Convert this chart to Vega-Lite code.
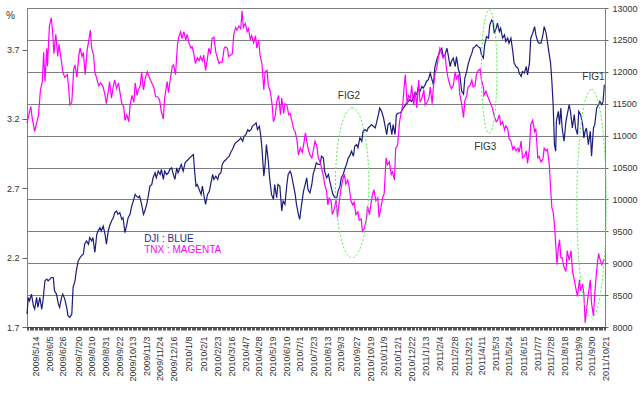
{
  "$schema": "https://vega.github.io/schema/vega-lite/v6.json",
  "width": 578,
  "height": 319,
  "autosize": "none",
  "padding": {"left": 27, "top": 8, "right": 39, "bottom": 74},
  "background": "white",
  "config": {
    "view": {"stroke": "#808080", "strokeWidth": 1},
    "font": "Liberation Sans",
    "axis": {"labelFont": "Liberation Sans", "labelColor": "#333333", "labelFontSize": 9, "titleFont": "Liberation Sans"}
  },
  "datasets": {
    "dji": [
      {"d":"2009-05-01","v":8203},{"d":"2009-05-03","v":8464},{"d":"2009-05-05","v":8411},{"d":"2009-05-08","v":8516},{"d":"2009-05-11","v":8333},{"d":"2009-05-13","v":8281},{"d":"2009-05-16","v":8464},{"d":"2009-05-18","v":8308},{"d":"2009-05-21","v":8464},{"d":"2009-05-24","v":8281},{"d":"2009-05-26","v":8411},{"d":"2009-05-29","v":8724},
      {"d":"2009-06-01","v":8750},{"d":"2009-06-03","v":8724},{"d":"2009-06-06","v":8750},{"d":"2009-06-08","v":8776},{"d":"2009-06-11","v":8776},{"d":"2009-06-13","v":8568},{"d":"2009-06-16","v":8516},{"d":"2009-06-19","v":8359},{"d":"2009-06-21","v":8308},{"d":"2009-06-24","v":8464},{"d":"2009-06-26","v":8516},{"d":"2009-06-29","v":8438},
      {"d":"2009-07-02","v":8308},{"d":"2009-07-04","v":8177},{"d":"2009-07-07","v":8152},{"d":"2009-07-10","v":8203},{"d":"2009-07-12","v":8620},{"d":"2009-07-15","v":8724},{"d":"2009-07-17","v":8880},{"d":"2009-07-20","v":9036},{"d":"2009-07-23","v":9089},{"d":"2009-07-25","v":9114},{"d":"2009-07-28","v":9141},{"d":"2009-07-30","v":9297},
      {"d":"2009-08-02","v":9349},{"d":"2009-08-05","v":9297},{"d":"2009-08-07","v":9402},{"d":"2009-08-10","v":9349},{"d":"2009-08-12","v":9402},{"d":"2009-08-15","v":9167},{"d":"2009-08-18","v":9453},{"d":"2009-08-20","v":9505},{"d":"2009-08-23","v":9558},{"d":"2009-08-25","v":9505},{"d":"2009-08-28","v":9583},{"d":"2009-08-31","v":9453},
      {"d":"2009-09-02","v":9297},{"d":"2009-09-05","v":9505},{"d":"2009-09-07","v":9583},{"d":"2009-09-10","v":9661},{"d":"2009-09-13","v":9714},{"d":"2009-09-15","v":9792},{"d":"2009-09-18","v":9817},{"d":"2009-09-20","v":9766},{"d":"2009-09-23","v":9792},{"d":"2009-09-26","v":9688},{"d":"2009-09-28","v":9714},
      {"d":"2009-10-01","v":9480},{"d":"2009-10-04","v":9609},{"d":"2009-10-06","v":9714},{"d":"2009-10-09","v":9766},{"d":"2009-10-11","v":9870},{"d":"2009-10-14","v":9974},{"d":"2009-10-17","v":10078},{"d":"2009-10-19","v":10052},{"d":"2009-10-22","v":10026},{"d":"2009-10-24","v":10052},{"d":"2009-10-27","v":9922},{"d":"2009-10-30","v":9766},
      {"d":"2009-11-01","v":9817},{"d":"2009-11-04","v":9922},{"d":"2009-11-06","v":10026},{"d":"2009-11-09","v":10208},{"d":"2009-11-12","v":10234},{"d":"2009-11-14","v":10339},{"d":"2009-11-17","v":10417},{"d":"2009-11-19","v":10339},{"d":"2009-11-22","v":10443},{"d":"2009-11-25","v":10391},{"d":"2009-11-27","v":10469},{"d":"2009-11-30","v":10313},
      {"d":"2009-12-02","v":10443},{"d":"2009-12-05","v":10391},{"d":"2009-12-08","v":10417},{"d":"2009-12-10","v":10469},{"d":"2009-12-13","v":10495},{"d":"2009-12-15","v":10417},{"d":"2009-12-18","v":10313},{"d":"2009-12-21","v":10495},{"d":"2009-12-23","v":10417},{"d":"2009-12-26","v":10495},{"d":"2009-12-28","v":10547},{"d":"2009-12-31","v":10443},
      {"d":"2010-01-03","v":10573},{"d":"2010-01-05","v":10599},{"d":"2010-01-08","v":10625},{"d":"2010-01-10","v":10651},{"d":"2010-01-13","v":10677},{"d":"2010-01-16","v":10703},{"d":"2010-01-17","v":10547},{"d":"2010-01-20","v":10208},{"d":"2010-01-22","v":10234},{"d":"2010-01-25","v":10156},{"d":"2010-01-28","v":10078},{"d":"2010-01-30","v":10208},
      {"d":"2010-02-02","v":10026},{"d":"2010-02-04","v":9922},{"d":"2010-02-07","v":10078},{"d":"2010-02-10","v":10130},{"d":"2010-02-12","v":10234},{"d":"2010-02-15","v":10391},{"d":"2010-02-17","v":10313},{"d":"2010-02-20","v":10365},{"d":"2010-02-23","v":10313},{"d":"2010-02-25","v":10391},{"d":"2010-02-28","v":10417},
      {"d":"2010-03-02","v":10547},{"d":"2010-03-05","v":10599},{"d":"2010-03-08","v":10625},{"d":"2010-03-10","v":10651},{"d":"2010-03-13","v":10677},{"d":"2010-03-16","v":10755},{"d":"2010-03-18","v":10781},{"d":"2010-03-21","v":10859},{"d":"2010-03-23","v":10886},{"d":"2010-03-26","v":10911},{"d":"2010-03-29","v":10938},{"d":"2010-03-31","v":10964},
      {"d":"2010-04-03","v":10911},{"d":"2010-04-05","v":10990},{"d":"2010-04-08","v":11016},{"d":"2010-04-11","v":11094},{"d":"2010-04-13","v":11068},{"d":"2010-04-16","v":11094},{"d":"2010-04-18","v":11146},{"d":"2010-04-21","v":11172},{"d":"2010-04-24","v":11198},{"d":"2010-04-26","v":11094},{"d":"2010-04-29","v":11146},
      {"d":"2010-05-01","v":11016},{"d":"2010-05-03","v":10808},{"d":"2010-05-06","v":10365},{"d":"2010-05-08","v":10547},{"d":"2010-05-10","v":10859},{"d":"2010-05-13","v":10599},{"d":"2010-05-15","v":10339},{"d":"2010-05-18","v":10078},{"d":"2010-05-21","v":10000},{"d":"2010-05-23","v":10234},{"d":"2010-05-26","v":10026},{"d":"2010-05-28","v":10234},{"d":"2010-05-31","v":10208},
      {"d":"2010-06-03","v":9817},{"d":"2010-06-05","v":9974},{"d":"2010-06-08","v":9922},{"d":"2010-06-11","v":10234},{"d":"2010-06-13","v":10391},{"d":"2010-06-16","v":10443},{"d":"2010-06-18","v":10391},{"d":"2010-06-21","v":10234},{"d":"2010-06-24","v":10078},{"d":"2010-06-26","v":9922},{"d":"2010-06-29","v":9766},
      {"d":"2010-07-01","v":9688},{"d":"2010-07-04","v":9922},{"d":"2010-07-07","v":10130},{"d":"2010-07-09","v":10208},{"d":"2010-07-12","v":10339},{"d":"2010-07-14","v":10156},{"d":"2010-07-17","v":10104},{"d":"2010-07-20","v":10234},{"d":"2010-07-22","v":10391},{"d":"2010-07-25","v":10495},{"d":"2010-07-27","v":10573},{"d":"2010-07-30","v":10547},
      {"d":"2010-08-02","v":10547},{"d":"2010-08-04","v":10677},{"d":"2010-08-07","v":10651},{"d":"2010-08-09","v":10443},{"d":"2010-08-12","v":10339},{"d":"2010-08-15","v":10391},{"d":"2010-08-17","v":10286},{"d":"2010-08-20","v":10156},{"d":"2010-08-22","v":10078},{"d":"2010-08-25","v":10026},{"d":"2010-08-28","v":10026},{"d":"2010-08-30","v":10130},
      {"d":"2010-09-02","v":10208},{"d":"2010-09-04","v":10339},{"d":"2010-09-07","v":10391},{"d":"2010-09-10","v":10495},{"d":"2010-09-12","v":10547},{"d":"2010-09-15","v":10651},{"d":"2010-09-17","v":10677},{"d":"2010-09-20","v":10755},{"d":"2010-09-23","v":10677},{"d":"2010-09-25","v":10833},{"d":"2010-09-28","v":10859},{"d":"2010-09-30","v":10808},
      {"d":"2010-10-03","v":10964},{"d":"2010-10-06","v":10911},{"d":"2010-10-08","v":11068},{"d":"2010-10-11","v":11094},{"d":"2010-10-14","v":11068},{"d":"2010-10-16","v":11120},{"d":"2010-10-19","v":11146},{"d":"2010-10-21","v":11172},{"d":"2010-10-24","v":11146},{"d":"2010-10-27","v":11120},{"d":"2010-10-29","v":11198},
      {"d":"2010-11-01","v":11328},{"d":"2010-11-03","v":11433},{"d":"2010-11-06","v":11380},{"d":"2010-11-09","v":11276},{"d":"2010-11-11","v":11172},{"d":"2010-11-14","v":11016},{"d":"2010-11-16","v":11172},{"d":"2010-11-19","v":11198},{"d":"2010-11-22","v":11016},{"d":"2010-11-24","v":11172},{"d":"2010-11-27","v":11016},{"d":"2010-11-29","v":11328},
      {"d":"2010-12-02","v":11354},{"d":"2010-12-05","v":11354},{"d":"2010-12-07","v":11380},{"d":"2010-12-10","v":11433},{"d":"2010-12-12","v":11458},{"d":"2010-12-15","v":11510},{"d":"2010-12-18","v":11536},{"d":"2010-12-20","v":11563},{"d":"2010-12-23","v":11536},{"d":"2010-12-25","v":11589},{"d":"2010-12-28","v":11667},{"d":"2010-12-31","v":11641},
      {"d":"2011-01-02","v":11745},{"d":"2011-01-05","v":11693},{"d":"2011-01-08","v":11770},{"d":"2011-01-10","v":11745},{"d":"2011-01-13","v":11797},{"d":"2011-01-15","v":11849},{"d":"2011-01-18","v":11875},{"d":"2011-01-21","v":11980},{"d":"2011-01-23","v":11901},{"d":"2011-01-26","v":11797},{"d":"2011-01-28","v":12058},{"d":"2011-01-31","v":12188},
      {"d":"2011-02-02","v":12239},{"d":"2011-02-05","v":12317},{"d":"2011-02-08","v":12370},{"d":"2011-02-10","v":12239},{"d":"2011-02-13","v":12266},{"d":"2011-02-16","v":12370},{"d":"2011-02-18","v":12266},{"d":"2011-02-21","v":12083},{"d":"2011-02-23","v":12161},{"d":"2011-02-26","v":12214},
      {"d":"2011-03-01","v":12083},{"d":"2011-03-03","v":12239},{"d":"2011-03-06","v":12031},{"d":"2011-03-08","v":11980},{"d":"2011-03-11","v":11700},{"d":"2011-03-14","v":11650},{"d":"2011-03-16","v":11900},{"d":"2011-03-19","v":12005},{"d":"2011-03-21","v":12109},{"d":"2011-03-24","v":12214},{"d":"2011-03-27","v":12292},{"d":"2011-03-29","v":12370},
      {"d":"2011-04-01","v":12395},{"d":"2011-04-03","v":12422},{"d":"2011-04-06","v":12395},{"d":"2011-04-09","v":12370},{"d":"2011-04-11","v":12266},{"d":"2011-04-14","v":12214},{"d":"2011-04-16","v":12422},{"d":"2011-04-19","v":12552},{"d":"2011-04-22","v":12527},{"d":"2011-04-24","v":12734},{"d":"2011-04-27","v":12813},{"d":"2011-04-29","v":12786},
      {"d":"2011-05-01","v":12605},{"d":"2011-05-04","v":12683},{"d":"2011-05-06","v":12761},{"d":"2011-05-09","v":12630},{"d":"2011-05-11","v":12683},{"d":"2011-05-14","v":12527},{"d":"2011-05-17","v":12578},{"d":"2011-05-19","v":12473},{"d":"2011-05-22","v":12527},{"d":"2011-05-24","v":12448},{"d":"2011-05-27","v":12527},{"d":"2011-05-30","v":12317},
      {"d":"2011-06-01","v":12136},{"d":"2011-06-04","v":12083},{"d":"2011-06-07","v":12058},{"d":"2011-06-09","v":11980},{"d":"2011-06-12","v":11927},{"d":"2011-06-14","v":12005},{"d":"2011-06-17","v":11980},{"d":"2011-06-20","v":12083},{"d":"2011-06-22","v":11953},{"d":"2011-06-25","v":12136},{"d":"2011-06-27","v":12527},{"d":"2011-06-30","v":12605},
      {"d":"2011-07-03","v":12708},{"d":"2011-07-05","v":12578},{"d":"2011-07-08","v":12473},{"d":"2011-07-10","v":12448},{"d":"2011-07-13","v":12448},{"d":"2011-07-16","v":12578},{"d":"2011-07-18","v":12708},{"d":"2011-07-21","v":12605},{"d":"2011-07-23","v":12473},{"d":"2011-07-26","v":12266},{"d":"2011-07-28","v":12136},{"d":"2011-07-30","v":11849},
      {"d":"2011-08-01","v":11484},{"d":"2011-08-03","v":10859},{"d":"2011-08-05","v":10755},{"d":"2011-08-06","v":11224},{"d":"2011-08-09","v":11380},{"d":"2011-08-11","v":11172},{"d":"2011-08-13","v":11433},{"d":"2011-08-15","v":11120},{"d":"2011-08-18","v":10911},{"d":"2011-08-21","v":11224},{"d":"2011-08-23","v":11328},{"d":"2011-08-26","v":11484},{"d":"2011-08-28","v":11380},{"d":"2011-08-31","v":11120},
      {"d":"2011-09-03","v":11328},{"d":"2011-09-05","v":11120},{"d":"2011-09-08","v":11016},{"d":"2011-09-10","v":11380},{"d":"2011-09-13","v":11328},{"d":"2011-09-16","v":11172},{"d":"2011-09-18","v":10964},{"d":"2011-09-20","v":11068},{"d":"2011-09-22","v":11120},{"d":"2011-09-25","v":10859},{"d":"2011-09-28","v":11068},{"d":"2011-09-30","v":10677},
      {"d":"2011-10-03","v":11120},{"d":"2011-10-05","v":11172},{"d":"2011-10-08","v":11433},{"d":"2011-10-11","v":11484},{"d":"2011-10-13","v":11536},{"d":"2011-10-16","v":11484},{"d":"2011-10-18","v":11536},{"d":"2011-10-20","v":11797}
    ],
    "tnx": [
      {"d":"2009-05-01","v":3.17},{"d":"2009-05-07","v":3.29},{"d":"2009-05-09","v":3.21},{"d":"2009-05-13","v":3.11},{"d":"2009-05-17","v":3.19},{"d":"2009-05-19","v":3.23},{"d":"2009-05-22","v":3.41},{"d":"2009-05-25","v":3.47},{"d":"2009-05-27","v":3.68},{"d":"2009-05-29","v":3.47},
      {"d":"2009-06-01","v":3.71},{"d":"2009-06-02","v":3.58},{"d":"2009-06-05","v":3.87},{"d":"2009-06-08","v":3.93},{"d":"2009-06-10","v":3.83},{"d":"2009-06-12","v":3.67},{"d":"2009-06-15","v":3.81},{"d":"2009-06-18","v":3.65},{"d":"2009-06-20","v":3.74},{"d":"2009-06-23","v":3.64},{"d":"2009-06-26","v":3.54},{"d":"2009-06-29","v":3.50},
      {"d":"2009-07-03","v":3.52},{"d":"2009-07-05","v":3.43},{"d":"2009-07-07","v":3.30},{"d":"2009-07-10","v":3.32},{"d":"2009-07-13","v":3.56},{"d":"2009-07-15","v":3.59},{"d":"2009-07-18","v":3.50},{"d":"2009-07-21","v":3.66},{"d":"2009-07-23","v":3.71},{"d":"2009-07-26","v":3.65},{"d":"2009-07-28","v":3.68},{"d":"2009-07-31","v":3.52},
      {"d":"2009-08-03","v":3.70},{"d":"2009-08-05","v":3.75},{"d":"2009-08-08","v":3.84},{"d":"2009-08-10","v":3.71},{"d":"2009-08-13","v":3.66},{"d":"2009-08-15","v":3.54},{"d":"2009-08-18","v":3.49},{"d":"2009-08-21","v":3.44},{"d":"2009-08-24","v":3.46},{"d":"2009-08-28","v":3.43},{"d":"2009-08-31","v":3.37},
      {"d":"2009-09-02","v":3.31},{"d":"2009-09-05","v":3.40},{"d":"2009-09-07","v":3.47},{"d":"2009-09-10","v":3.35},{"d":"2009-09-13","v":3.44},{"d":"2009-09-15","v":3.48},{"d":"2009-09-18","v":3.42},{"d":"2009-09-21","v":3.46},{"d":"2009-09-24","v":3.37},{"d":"2009-09-26","v":3.31},{"d":"2009-09-29","v":3.29},
      {"d":"2009-10-01","v":3.19},{"d":"2009-10-04","v":3.23},{"d":"2009-10-07","v":3.18},{"d":"2009-10-09","v":3.30},{"d":"2009-10-12","v":3.37},{"d":"2009-10-15","v":3.32},{"d":"2009-10-17","v":3.46},{"d":"2009-10-20","v":3.37},{"d":"2009-10-22","v":3.41},{"d":"2009-10-25","v":3.44},{"d":"2009-10-27","v":3.54},{"d":"2009-10-30","v":3.41},
      {"d":"2009-11-02","v":3.50},{"d":"2009-11-05","v":3.54},{"d":"2009-11-08","v":3.50},{"d":"2009-11-12","v":3.46},{"d":"2009-11-15","v":3.43},{"d":"2009-11-18","v":3.36},{"d":"2009-11-21","v":3.36},{"d":"2009-11-24","v":3.34},{"d":"2009-11-27","v":3.25},{"d":"2009-11-30","v":3.20},
      {"d":"2009-12-02","v":3.35},{"d":"2009-12-06","v":3.47},{"d":"2009-12-08","v":3.39},{"d":"2009-12-11","v":3.49},{"d":"2009-12-14","v":3.58},{"d":"2009-12-16","v":3.59},{"d":"2009-12-19","v":3.52},{"d":"2009-12-22","v":3.73},{"d":"2009-12-24","v":3.79},{"d":"2009-12-27","v":3.83},{"d":"2009-12-29","v":3.78},
      {"d":"2010-01-01","v":3.83},{"d":"2010-01-04","v":3.77},{"d":"2010-01-06","v":3.81},{"d":"2010-01-09","v":3.75},{"d":"2010-01-12","v":3.71},{"d":"2010-01-14","v":3.72},{"d":"2010-01-17","v":3.66},{"d":"2010-01-19","v":3.60},{"d":"2010-01-22","v":3.64},{"d":"2010-01-25","v":3.62},{"d":"2010-01-27","v":3.65},{"d":"2010-01-30","v":3.62},
      {"d":"2010-02-01","v":3.66},{"d":"2010-02-04","v":3.55},{"d":"2010-02-07","v":3.64},{"d":"2010-02-09","v":3.71},{"d":"2010-02-12","v":3.67},{"d":"2010-02-14","v":3.78},{"d":"2010-02-17","v":3.79},{"d":"2010-02-20","v":3.68},{"d":"2010-02-22","v":3.65},{"d":"2010-02-25","v":3.60},{"d":"2010-02-27","v":3.61},
      {"d":"2010-03-02","v":3.61},{"d":"2010-03-05","v":3.71},{"d":"2010-03-07","v":3.72},{"d":"2010-03-10","v":3.71},{"d":"2010-03-12","v":3.65},{"d":"2010-03-15","v":3.66},{"d":"2010-03-18","v":3.67},{"d":"2010-03-20","v":3.81},{"d":"2010-03-23","v":3.86},{"d":"2010-03-25","v":3.84},{"d":"2010-03-28","v":3.87},{"d":"2010-03-31","v":3.85},
      {"d":"2010-04-02","v":3.98},{"d":"2010-04-04","v":3.86},{"d":"2010-04-07","v":3.89},{"d":"2010-04-10","v":3.83},{"d":"2010-04-12","v":3.85},{"d":"2010-04-15","v":3.77},{"d":"2010-04-17","v":3.80},{"d":"2010-04-20","v":3.75},{"d":"2010-04-23","v":3.80},{"d":"2010-04-25","v":3.71},{"d":"2010-04-28","v":3.77},{"d":"2010-04-30","v":3.66},
      {"d":"2010-05-03","v":3.60},{"d":"2010-05-06","v":3.41},{"d":"2010-05-08","v":3.54},{"d":"2010-05-11","v":3.55},{"d":"2010-05-13","v":3.44},{"d":"2010-05-16","v":3.40},{"d":"2010-05-19","v":3.30},{"d":"2010-05-21","v":3.18},{"d":"2010-05-24","v":3.23},{"d":"2010-05-26","v":3.32},{"d":"2010-05-29","v":3.37},
      {"d":"2010-06-01","v":3.23},{"d":"2010-06-03","v":3.35},{"d":"2010-06-06","v":3.24},{"d":"2010-06-08","v":3.31},{"d":"2010-06-11","v":3.30},{"d":"2010-06-14","v":3.23},{"d":"2010-06-16","v":3.24},{"d":"2010-06-19","v":3.18},{"d":"2010-06-22","v":3.12},{"d":"2010-06-24","v":3.11},{"d":"2010-06-27","v":3.04},{"d":"2010-06-29","v":2.94},
      {"d":"2010-07-02","v":2.99},{"d":"2010-07-05","v":2.96},{"d":"2010-07-07","v":3.01},{"d":"2010-07-10","v":3.10},{"d":"2010-07-12","v":3.04},{"d":"2010-07-15","v":2.97},{"d":"2010-07-17","v":2.94},{"d":"2010-07-20","v":2.92},{"d":"2010-07-23","v":2.99},{"d":"2010-07-25","v":3.04},{"d":"2010-07-28","v":3.00},{"d":"2010-07-30","v":2.92},
      {"d":"2010-08-02","v":2.89},{"d":"2010-08-04","v":2.85},{"d":"2010-08-07","v":2.79},{"d":"2010-08-09","v":2.73},{"d":"2010-08-12","v":2.68},{"d":"2010-08-14","v":2.58},{"d":"2010-08-16","v":2.63},{"d":"2010-08-19","v":2.61},{"d":"2010-08-21","v":2.51},{"d":"2010-08-24","v":2.55},{"d":"2010-08-27","v":2.62},{"d":"2010-08-29","v":2.49},
      {"d":"2010-09-01","v":2.61},{"d":"2010-09-03","v":2.68},{"d":"2010-09-06","v":2.76},{"d":"2010-09-09","v":2.80},{"d":"2010-09-11","v":2.73},{"d":"2010-09-14","v":2.76},{"d":"2010-09-16","v":2.72},{"d":"2010-09-19","v":2.61},{"d":"2010-09-22","v":2.58},{"d":"2010-09-24","v":2.60},{"d":"2010-09-27","v":2.51},{"d":"2010-09-30","v":2.53},
      {"d":"2010-10-02","v":2.47},{"d":"2010-10-05","v":2.48},{"d":"2010-10-07","v":2.39},{"d":"2010-10-10","v":2.41},{"d":"2010-10-13","v":2.47},{"d":"2010-10-15","v":2.57},{"d":"2010-10-18","v":2.51},{"d":"2010-10-20","v":2.58},{"d":"2010-10-23","v":2.66},{"d":"2010-10-25","v":2.69},{"d":"2010-10-28","v":2.61},{"d":"2010-10-31","v":2.63},
      {"d":"2010-11-02","v":2.49},{"d":"2010-11-05","v":2.56},{"d":"2010-11-08","v":2.64},{"d":"2010-11-10","v":2.66},{"d":"2010-11-13","v":2.92},{"d":"2010-11-15","v":2.87},{"d":"2010-11-18","v":2.89},{"d":"2010-11-21","v":2.80},{"d":"2010-11-23","v":2.82},{"d":"2010-11-26","v":2.76},{"d":"2010-11-28","v":2.99},
      {"d":"2010-12-01","v":3.01},{"d":"2010-12-04","v":3.18},{"d":"2010-12-06","v":3.23},{"d":"2010-12-09","v":3.30},{"d":"2010-12-11","v":3.42},{"d":"2010-12-13","v":3.52},{"d":"2010-12-16","v":3.30},{"d":"2010-12-18","v":3.37},{"d":"2010-12-21","v":3.35},{"d":"2010-12-23","v":3.44},{"d":"2010-12-26","v":3.30},{"d":"2010-12-29","v":3.40},{"d":"2010-12-31","v":3.28},
      {"d":"2011-01-03","v":3.48},{"d":"2011-01-05","v":3.32},{"d":"2011-01-08","v":3.35},{"d":"2011-01-11","v":3.41},{"d":"2011-01-13","v":3.30},{"d":"2011-01-16","v":3.32},{"d":"2011-01-19","v":3.35},{"d":"2011-01-21","v":3.43},{"d":"2011-01-24","v":3.31},{"d":"2011-01-26","v":3.44},{"d":"2011-01-29","v":3.54},{"d":"2011-01-31","v":3.56},
      {"d":"2011-02-03","v":3.66},{"d":"2011-02-05","v":3.71},{"d":"2011-02-08","v":3.67},{"d":"2011-02-10","v":3.64},{"d":"2011-02-13","v":3.66},{"d":"2011-02-16","v":3.54},{"d":"2011-02-18","v":3.49},{"d":"2011-02-21","v":3.44},{"d":"2011-02-23","v":3.42},{"d":"2011-02-26","v":3.44},
      {"d":"2011-03-01","v":3.54},{"d":"2011-03-03","v":3.49},{"d":"2011-03-06","v":3.52},{"d":"2011-03-08","v":3.38},{"d":"2011-03-11","v":3.31},{"d":"2011-03-14","v":3.21},{"d":"2011-03-16","v":3.33},{"d":"2011-03-19","v":3.37},{"d":"2011-03-21","v":3.43},{"d":"2011-03-24","v":3.44},{"d":"2011-03-27","v":3.48},{"d":"2011-03-29","v":3.43},
      {"d":"2011-04-01","v":3.44},{"d":"2011-04-03","v":3.52},{"d":"2011-04-06","v":3.55},{"d":"2011-04-09","v":3.56},{"d":"2011-04-11","v":3.48},{"d":"2011-04-14","v":3.43},{"d":"2011-04-15","v":3.37},{"d":"2011-04-18","v":3.40},{"d":"2011-04-21","v":3.36},{"d":"2011-04-23","v":3.34},{"d":"2011-04-26","v":3.30},{"d":"2011-04-28","v":3.28},
      {"d":"2011-05-01","v":3.22},{"d":"2011-05-04","v":3.18},{"d":"2011-05-06","v":3.19},{"d":"2011-05-09","v":3.23},{"d":"2011-05-11","v":3.16},{"d":"2011-05-14","v":3.18},{"d":"2011-05-17","v":3.12},{"d":"2011-05-19","v":3.15},{"d":"2011-05-22","v":3.13},{"d":"2011-05-24","v":3.06},{"d":"2011-05-27","v":3.04},{"d":"2011-05-30","v":2.98},
      {"d":"2011-06-01","v":3.00},{"d":"2011-06-04","v":2.97},{"d":"2011-06-07","v":2.99},{"d":"2011-06-09","v":2.96},{"d":"2011-06-12","v":3.04},{"d":"2011-06-14","v":2.92},{"d":"2011-06-17","v":2.93},{"d":"2011-06-20","v":2.97},{"d":"2011-06-22","v":2.88},{"d":"2011-06-25","v":2.99},{"d":"2011-06-27","v":3.16},{"d":"2011-06-30","v":3.19},
      {"d":"2011-07-03","v":3.11},{"d":"2011-07-05","v":3.13},{"d":"2011-07-08","v":2.92},{"d":"2011-07-10","v":2.93},{"d":"2011-07-13","v":2.89},{"d":"2011-07-16","v":2.91},{"d":"2011-07-18","v":2.99},{"d":"2011-07-21","v":2.97},{"d":"2011-07-23","v":2.98},{"d":"2011-07-26","v":2.87},{"d":"2011-07-28","v":2.70},{"d":"2011-07-30","v":2.56},
      {"d":"2011-08-01","v":2.53},{"d":"2011-08-03","v":2.44},{"d":"2011-08-04","v":2.37},{"d":"2011-08-07","v":2.15},{"d":"2011-08-09","v":2.27},{"d":"2011-08-11","v":2.33},{"d":"2011-08-13","v":2.20},{"d":"2011-08-15","v":2.20},{"d":"2011-08-18","v":2.13},{"d":"2011-08-21","v":2.10},{"d":"2011-08-23","v":2.25},{"d":"2011-08-26","v":2.18},{"d":"2011-08-29","v":2.25},{"d":"2011-08-31","v":2.11},
      {"d":"2011-09-03","v":2.04},{"d":"2011-09-05","v":1.99},{"d":"2011-09-08","v":1.92},{"d":"2011-09-11","v":2.04},{"d":"2011-09-13","v":1.96},{"d":"2011-09-16","v":2.01},{"d":"2011-09-18","v":1.94},{"d":"2011-09-20","v":1.73},{"d":"2011-09-23","v":1.86},{"d":"2011-09-25","v":1.94},{"d":"2011-09-28","v":2.04},{"d":"2011-09-30","v":1.87},
      {"d":"2011-10-03","v":1.78},{"d":"2011-10-05","v":1.94},{"d":"2011-10-08","v":2.11},{"d":"2011-10-11","v":2.23},{"d":"2011-10-13","v":2.19},{"d":"2011-10-16","v":2.15},{"d":"2011-10-18","v":2.17},{"d":"2011-10-20","v":2.19}
    ],
    "ann": [
      {"t":"FIG2","d":"2010-09-16","v":11625},
      {"t":"FIG3","d":"2011-04-17","v":10820},
      {"t":"FIG1","d":"2011-10-03","v":11914}
    ],
    "ell": [
      {"f":"FIG2","d":"2010-09-21","v":10261},
      {"f":"FIG3","d":"2011-04-23","v":12005},
      {"f":"FIG1","d":"2011-09-30","v":9938}
    ],
    "legdji": [{"t":"DJI : BLUE","d":"2009-10-31","v":9380}],
    "legtnx": [{"t":"TNX : MAGENTA","d":"2009-10-31","v":9203}]
  },
  "resolve": {"scale": {"y": "independent"}, "axis": {"x": "independent", "y": "independent"}},
  "layer": [
    {
      "data": {"name": "dji"},
      "mark": {"type": "line", "color": "#1c1c7c", "strokeWidth": 1.2},
      "encoding": {
        "x": {
          "field": "d", "type": "temporal",
          "scale": {"type": "utc", "domain": [{"year":2009,"month":5,"date":1,"utc":true},{"year":2011,"month":10,"date":21,"utc":true}]},
          "axis": {"orient": "bottom", "title": null, "labels": false, "grid": false, "domain": true, "domainColor": "#444444", "ticks": true, "tickSize": 3, "tickColor": "#555555", "tickCount": {"interval": "day", "step": 2}}
        },
        "y": {
          "field": "v", "type": "quantitative",
          "scale": {"domain": [8000, 13000], "nice": false, "zero": false},
          "axis": {
            "orient": "right", "title": null, "format": "d",
            "values": [8000, 8500, 9000, 9500, 10000, 10500, 11000, 11500, 12000, 12500, 13000],
            "grid": true, "gridColor": "#7f7f7f", "gridWidth": 1, "domain": false, "labelOverlap": false,
            "tickSize": 3, "tickColor": "#666666", "labelPadding": 4, "labelFontSize": 9
          }
        }
      }
    },
    {
      "data": {"name": "tnx"},
      "mark": {"type": "line", "color": "#ff00ff", "strokeWidth": 1.2},
      "encoding": {
        "x": {
          "field": "d", "type": "temporal",
          "scale": {"type": "utc", "domain": [{"year":2009,"month":5,"date":1,"utc":true},{"year":2011,"month":10,"date":21,"utc":true}]},
          "axis": {
            "orient": "bottom", "title": null, "grid": false, "ticks": false, "domain": false,
            "labelExpr": "utcFormat(datum.value, '%Y/%-m/%-d')",
            "labelAngle": 270, "labelAlign": "right", "labelBaseline": "middle",
            "labelPadding": 9, "labelOverlap": false, "labelFlush": false, "labelFontSize": 9,
            "values": [
              {"year":2009,"month":5,"date":14,"utc":true},{"year":2009,"month":6,"date":5,"utc":true},{"year":2009,"month":6,"date":26,"utc":true},{"year":2009,"month":7,"date":20,"utc":true},
              {"year":2009,"month":8,"date":10,"utc":true},{"year":2009,"month":8,"date":31,"utc":true},{"year":2009,"month":9,"date":22,"utc":true},{"year":2009,"month":10,"date":13,"utc":true},
              {"year":2009,"month":11,"date":3,"utc":true},{"year":2009,"month":11,"date":24,"utc":true},{"year":2009,"month":12,"date":16,"utc":true},{"year":2010,"month":1,"date":8,"utc":true},
              {"year":2010,"month":2,"date":1,"utc":true},{"year":2010,"month":2,"date":23,"utc":true},{"year":2010,"month":3,"date":16,"utc":true},{"year":2010,"month":4,"date":7,"utc":true},
              {"year":2010,"month":4,"date":28,"utc":true},{"year":2010,"month":5,"date":19,"utc":true},{"year":2010,"month":6,"date":10,"utc":true},{"year":2010,"month":7,"date":1,"utc":true},
              {"year":2010,"month":7,"date":23,"utc":true},{"year":2010,"month":8,"date":13,"utc":true},{"year":2010,"month":9,"date":3,"utc":true},{"year":2010,"month":9,"date":27,"utc":true},
              {"year":2010,"month":10,"date":19,"utc":true},{"year":2010,"month":11,"date":9,"utc":true},{"year":2010,"month":12,"date":1,"utc":true},{"year":2010,"month":12,"date":22,"utc":true},
              {"year":2011,"month":1,"date":13,"utc":true},{"year":2011,"month":2,"date":4,"utc":true},{"year":2011,"month":2,"date":28,"utc":true},{"year":2011,"month":3,"date":21,"utc":true},
              {"year":2011,"month":4,"date":11,"utc":true},{"year":2011,"month":5,"date":3,"utc":true},{"year":2011,"month":5,"date":24,"utc":true},{"year":2011,"month":6,"date":15,"utc":true},
              {"year":2011,"month":7,"date":7,"utc":true},{"year":2011,"month":7,"date":28,"utc":true},{"year":2011,"month":8,"date":18,"utc":true},{"year":2011,"month":9,"date":9,"utc":true},
              {"year":2011,"month":9,"date":30,"utc":true},{"year":2011,"month":10,"date":21,"utc":true}
            ]
          }
        },
        "y": {
          "field": "v", "type": "quantitative",
          "scale": {"domain": [1.7, 4.0], "nice": false, "zero": false},
          "axis": {
            "orient": "left", "values": [1.7, 2.2, 2.7, 3.2, 3.7], "format": ".1f",
            "grid": false, "domain": false, "tickSize": 5, "tickColor": "#666666", "labelPadding": 3, "labelFontSize": 9,
            "title": "%", "titleAngle": 0, "titleX": -17, "titleY": 7, "titleAlign": "center", "titleBaseline": "middle",
            "titleFontSize": 10, "titleFontWeight": "normal", "titleColor": "#333333"
          }
        }
      }
    },
    {
      "data": {"name": "ell"},
      "transform": [{"filter": "datum.f == 'FIG2'"}],
      "mark": {"type": "point", "filled": false, "opacity": 1, "stroke": "#55ee55", "strokeWidth": 1, "strokeDash": [2, 2], "size": 22500,
               "shape": "M0,-1C0.123,-1 0.222,-0.552 0.222,0C0.222,0.552 0.123,1 0,1C-0.123,1 -0.222,0.552 -0.222,0C-0.222,-0.552 -0.123,-1 0,-1Z"},
      "encoding": {
        "x": {"field": "d", "type": "temporal", "axis": null, "scale": {"type": "utc", "domain": [{"year":2009,"month":5,"date":1,"utc":true},{"year":2011,"month":10,"date":21,"utc":true}]}},
        "y": {"field": "v", "type": "quantitative", "axis": null, "scale": {"domain": [8000, 13000], "nice": false, "zero": false}}
      }
    },
    {
      "data": {"name": "ell"},
      "transform": [{"filter": "datum.f == 'FIG3'"}],
      "mark": {"type": "point", "filled": false, "opacity": 1, "stroke": "#55ee55", "strokeWidth": 1, "strokeDash": [2, 2], "size": 15228,
               "shape": "M0,-1C0.07,-1 0.126,-0.552 0.126,0C0.126,0.552 0.07,1 0,1C-0.07,1 -0.126,0.552 -0.126,0C-0.126,-0.552 -0.07,-1 0,-1Z"},
      "encoding": {
        "x": {"field": "d", "type": "temporal", "axis": null, "scale": {"type": "utc", "domain": [{"year":2009,"month":5,"date":1,"utc":true},{"year":2011,"month":10,"date":21,"utc":true}]}},
        "y": {"field": "v", "type": "quantitative", "axis": null, "scale": {"domain": [8000, 13000], "nice": false, "zero": false}}
      }
    },
    {
      "data": {"name": "ell"},
      "transform": [{"filter": "datum.f == 'FIG1'"}],
      "mark": {"type": "point", "filled": false, "opacity": 1, "stroke": "#55ee55", "strokeWidth": 1, "strokeDash": [2, 2], "size": 51984,
               "shape": "M0,-1C0.071,-1 0.129,-0.552 0.129,0C0.129,0.552 0.071,1 0,1C-0.071,1 -0.129,0.552 -0.129,0C-0.129,-0.552 -0.071,-1 0,-1Z"},
      "encoding": {
        "x": {"field": "d", "type": "temporal", "axis": null, "scale": {"type": "utc", "domain": [{"year":2009,"month":5,"date":1,"utc":true},{"year":2011,"month":10,"date":21,"utc":true}]}},
        "y": {"field": "v", "type": "quantitative", "axis": null, "scale": {"domain": [8000, 13000], "nice": false, "zero": false}}
      }
    },
    {
      "data": {"name": "ann"},
      "mark": {"type": "text", "font": "Liberation Sans", "fontSize": 10, "color": "#333333", "align": "center", "baseline": "middle"},
      "encoding": {
        "x": {"field": "d", "type": "temporal", "axis": null, "scale": {"type": "utc", "domain": [{"year":2009,"month":5,"date":1,"utc":true},{"year":2011,"month":10,"date":21,"utc":true}]}},
        "y": {"field": "v", "type": "quantitative", "axis": null, "scale": {"domain": [8000, 13000], "nice": false, "zero": false}},
        "text": {"field": "t"}
      }
    },
    {
      "data": {"name": "legdji"},
      "mark": {"type": "text", "font": "Liberation Sans", "fontSize": 10, "color": "#2b2b8c", "align": "left", "baseline": "middle"},
      "encoding": {
        "x": {"field": "d", "type": "temporal", "axis": null, "scale": {"type": "utc", "domain": [{"year":2009,"month":5,"date":1,"utc":true},{"year":2011,"month":10,"date":21,"utc":true}]}},
        "y": {"field": "v", "type": "quantitative", "axis": null, "scale": {"domain": [8000, 13000], "nice": false, "zero": false}},
        "text": {"field": "t"}
      }
    },
    {
      "data": {"name": "legtnx"},
      "mark": {"type": "text", "font": "Liberation Sans", "fontSize": 10, "color": "#ff00ff", "align": "left", "baseline": "middle"},
      "encoding": {
        "x": {"field": "d", "type": "temporal", "axis": null, "scale": {"type": "utc", "domain": [{"year":2009,"month":5,"date":1,"utc":true},{"year":2011,"month":10,"date":21,"utc":true}]}},
        "y": {"field": "v", "type": "quantitative", "axis": null, "scale": {"domain": [8000, 13000], "nice": false, "zero": false}},
        "text": {"field": "t"}
      }
    }
  ]
}
